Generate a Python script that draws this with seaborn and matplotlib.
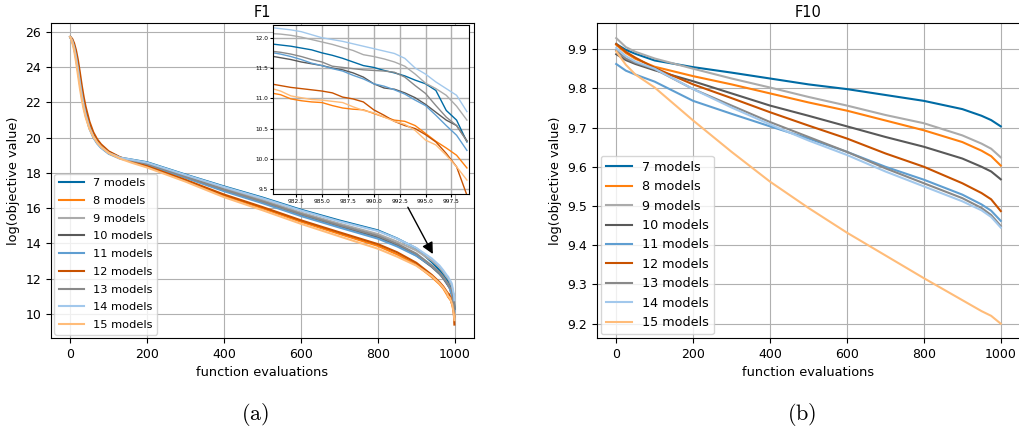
import matplotlib
matplotlib.use("Agg")
import matplotlib.pyplot as plt
import seaborn as sns
import pandas as pd

# ---------------- data ----------------
labels = ["7 models", "8 models", "9 models", "10 models", "11 models",
          "12 models", "13 models", "14 models", "15 models"]
colors = ["#006BA4", "#FF800E", "#ABABAB", "#595959", "#5F9ED1",
          "#C85200", "#898989", "#A2C8EC", "#FFBC79"]

# F1 evaluation positions
f1_x = [0, 5, 10, 15, 20, 25, 30, 35, 40, 50, 60, 70, 80, 100, 130, 160,
        200, 250, 300, 400, 500, 600, 700, 800, 850, 900, 940, 960, 970,
        980, 981, 982, 983, 984, 985, 986, 987, 988, 989,
        990, 991, 992, 993, 994, 995, 996, 997, 998, 999]

f1_7 = [25.7, 25.5, 25.15, 24.6, 23.9, 23.15, 22.45, 21.85, 21.33, 20.58, 20.07, 19.72, 19.47, 19.13, 18.86, 18.75,
        18.6, 18.25, 17.9, 17.23, 16.6, 15.91, 15.3, 14.74, 14.28, 13.72, 12.95, 12.49, 12.24,
        11.90, 11.88, 11.86, 11.83, 11.80, 11.75, 11.71, 11.66, 11.60, 11.54,
        11.51, 11.46, 11.42, 11.37, 11.30, 11.24, 11.13, 10.80, 10.64, 10.28]
f1_8 = [25.7, 25.55, 25.2, 24.7, 24.0, 23.25, 22.55, 21.95, 21.45, 20.68, 20.17, 19.8, 19.55, 19.18, 18.85, 18.62,
        18.35, 17.95, 17.56, 16.71, 15.99, 15.23, 14.54, 13.86, 13.38, 12.78, 12.1, 11.7, 11.45,
        11.09, 11.06, 10.99, 10.96, 10.94, 10.93, 10.88, 10.84, 10.82, 10.81,
        10.75, 10.69, 10.64, 10.62, 10.55, 10.42, 10.29, 10.18, 10.06, 9.85]
f1_9 = [25.7, 25.5, 25.15, 24.6, 23.9, 23.15, 22.45, 21.85, 21.35, 20.6, 20.1, 19.75, 19.5, 19.15, 18.86, 18.72,
        18.54, 18.18, 17.82, 17.11, 16.46, 15.75, 15.12, 14.53, 14.1, 13.6, 13.03, 12.65, 12.38,
        12.07, 12.06, 12.04, 12.01, 11.97, 11.93, 11.89, 11.84, 11.79, 11.72,
        11.69, 11.65, 11.60, 11.53, 11.40, 11.25, 11.16, 11.05, 10.87, 10.64]
f1_10 = [25.7, 25.52, 25.18, 24.65, 23.95, 23.2, 22.5, 21.9, 21.38, 20.62, 20.12, 19.76, 19.5, 19.15, 18.84, 18.68,
         18.49, 18.12, 17.75, 17.0, 16.33, 15.61, 14.96, 14.34, 13.9, 13.32, 12.68, 12.28, 12.03,
         11.70, 11.67, 11.64, 11.60, 11.57, 11.54, 11.50, 11.47, 11.42, 11.35,
         11.24, 11.17, 11.15, 11.09, 11.01, 10.90, 10.77, 10.64, 10.55, 10.30]
f1_11 = [25.7, 25.47, 25.08, 24.5, 23.8, 23.05, 22.35, 21.75, 21.25, 20.5, 20.0, 19.66, 19.42, 19.08, 18.8, 18.66,
         18.47, 18.09, 17.72, 16.96, 16.28, 15.55, 14.9, 14.27, 13.83, 13.3, 12.73, 12.33, 12.08,
         11.76, 11.73, 11.69, 11.64, 11.58, 11.54, 11.49, 11.45, 11.38, 11.32,
         11.24, 11.20, 11.14, 11.07, 10.97, 10.88, 10.72, 10.55, 10.39, 10.14]
f1_12 = [25.7, 25.6, 25.35, 24.95, 24.4, 23.7, 22.95, 22.3, 21.75, 20.9, 20.3, 19.9, 19.62, 19.22, 18.88, 18.65,
         18.38, 17.99, 17.6, 16.77, 16.06, 15.31, 14.63, 13.96, 13.5, 12.9, 12.22, 11.81, 11.56,
         11.24, 11.21, 11.18, 11.16, 11.14, 11.12, 11.09, 11.02, 10.99, 10.94,
         10.81, 10.72, 10.62, 10.55, 10.50, 10.40, 10.28, 10.09, 9.87, 9.40]
f1_13 = [25.7, 25.5, 25.12, 24.58, 23.88, 23.12, 22.42, 21.82, 21.33, 20.58, 20.08, 19.73, 19.48, 19.13, 18.84, 18.7,
         18.51, 18.15, 17.78, 17.05, 16.38, 15.67, 15.03, 14.43, 13.98, 13.42, 12.75, 12.35, 12.1,
         11.78, 11.76, 11.73, 11.69, 11.64, 11.60, 11.53, 11.51, 11.49, 11.47,
         11.46, 11.45, 11.43, 11.35, 11.21, 11.08, 10.88, 10.69, 10.55, 10.29]
f1_14 = [25.7, 25.48, 25.1, 24.55, 23.85, 23.1, 22.4, 21.8, 21.3, 20.55, 20.05, 19.7, 19.45, 19.12, 18.86, 18.74,
         18.58, 18.23, 17.88, 17.2, 16.56, 15.87, 15.25, 14.7, 14.27, 13.74, 13.15, 12.75, 12.48,
         12.17, 12.15, 12.13, 12.10, 12.05, 12.00, 11.97, 11.94, 11.90, 11.86,
         11.82, 11.78, 11.74, 11.66, 11.50, 11.40, 11.27, 11.16, 11.05, 10.78]
f1_15 = [25.7, 25.4, 24.95, 24.3, 23.55, 22.8, 22.15, 21.6, 21.15, 20.5, 20.05, 19.72, 19.48, 19.12, 18.8, 18.57,
         18.3, 17.9, 17.5, 16.62, 15.88, 15.11, 14.4, 13.7, 13.25, 12.74, 12.15, 11.75, 11.5,
         11.17, 11.12, 11.04, 11.01, 10.98, 10.97, 10.95, 10.93, 10.86, 10.80,
         10.76, 10.69, 10.62, 10.57, 10.47, 10.31, 10.23, 10.06, 9.87, 9.65]

# F10 evaluation positions
f10_x = [0, 25, 50, 100, 200, 300, 400, 500, 600, 700, 800, 900, 950, 975, 1000]
f10_7 = [9.913, 9.898, 9.888, 9.871, 9.854, 9.840, 9.825, 9.810, 9.798, 9.783, 9.768, 9.747, 9.730, 9.719, 9.703]
f10_8 = [9.911, 9.890, 9.875, 9.855, 9.831, 9.810, 9.787, 9.764, 9.743, 9.718, 9.693, 9.663, 9.641, 9.627, 9.603]
f10_9 = [9.928, 9.905, 9.893, 9.876, 9.850, 9.825, 9.802, 9.778, 9.756, 9.732, 9.711, 9.680, 9.659, 9.646, 9.624]
f10_10 = [9.887, 9.872, 9.862, 9.846, 9.818, 9.787, 9.756, 9.730, 9.703, 9.676, 9.651, 9.621, 9.600, 9.588, 9.568]
f10_11 = [9.862, 9.845, 9.835, 9.817, 9.768, 9.735, 9.703, 9.672, 9.638, 9.600, 9.567, 9.529, 9.504, 9.488, 9.462]
f10_12 = [9.913, 9.893, 9.878, 9.852, 9.810, 9.775, 9.739, 9.705, 9.672, 9.634, 9.600, 9.558, 9.533, 9.517, 9.487]
f10_13 = [9.896, 9.876, 9.865, 9.849, 9.798, 9.756, 9.714, 9.676, 9.638, 9.596, 9.558, 9.520, 9.495, 9.477, 9.449]
f10_14 = [9.903, 9.882, 9.868, 9.850, 9.798, 9.751, 9.708, 9.667, 9.630, 9.588, 9.550, 9.512, 9.489, 9.472, 9.445]
f10_15 = [9.894, 9.860, 9.835, 9.802, 9.718, 9.638, 9.562, 9.495, 9.432, 9.374, 9.316, 9.260, 9.232, 9.220, 9.200]

inset_xticks = [982.5, 985.0, 987.5, 990.0, 992.5, 995.0, 997.5]
inset_yticks = [9.5, 10.0, 10.5, 11.0, 11.5, 12.0]

f1_series = [f1_7, f1_8, f1_9, f1_10, f1_11, f1_12, f1_13, f1_14, f1_15]
f10_series = [f10_7, f10_8, f10_9, f10_10, f10_11, f10_12, f10_13, f10_14, f10_15]

# ---------------- style ----------------
plt.rcParams.update({
    "font.family": ["DejaVu Sans"],
    "font.size": 9.3,
    "axes.grid": True,
    "grid.color": "#b0b0b0",
    "grid.linewidth": 0.8,
    "axes.edgecolor": "black",
    "axes.linewidth": 0.8,
    "xtick.labelsize": 9,
    "ytick.labelsize": 9,
    "mathtext.fontset": "cm",
})

fig = plt.figure(figsize=(10.19, 4.32), dpi=100)
W, H = 1019, 432
ax1 = fig.add_axes([51 / W, (H - 338) / H, 423 / W, 315 / H])
ax2 = fig.add_axes([597 / W, (H - 338) / H, 423 / W, 315 / H])


def draw(ax, xs, series, lw=1.5, with_label=True):
    for ys, lab, col in zip(series, labels, colors):
        df = pd.DataFrame({"x": xs, "y": ys})
        sns.lineplot(data=df, x="x", y="y", ax=ax, color=col, linewidth=lw,
                     label=lab if with_label else None, legend=False,
                     estimator=None, sort=True)


# ---- F1 ----
draw(ax1, f1_x, f1_series)
ax1.set_title("F1", fontsize=10.5, pad=4)
ax1.set_xlabel("function evaluations")
ax1.set_ylabel("log(objective value)")
ax1.set_xticks([0, 200, 400, 600, 800, 1000])
ax1.set_yticks([10, 12, 14, 16, 18, 20, 22, 24, 26])
ax1.set_xlim(-50, 1050)
ax1.set_ylim(8.64, 26.49)
ax1.legend(loc="lower left", fontsize=8.2, borderaxespad=0.3,
           labelspacing=0.68, handlelength=2.2)

axin = ax1.inset_axes([0.5255, 0.4571, 0.4627, 0.5365])
draw(axin, f1_x, f1_series, lw=1.0, with_label=False)
axin.set_xlim(980.3, 999.2)
axin.set_ylim(9.42, 12.21)
axin.set_xticks(inset_xticks)
axin.set_yticks(inset_yticks)
axin.tick_params(labelsize=4.2, length=2, pad=1.5)
axin.set_xlabel("")
axin.set_ylabel("")
axin.grid(True, color="#b0b0b0", linewidth=1.0)
axin.set_facecolor("white")

ax1.annotate("", xy=(943, 13.4), xytext=(878, 16.05),
             arrowprops=dict(arrowstyle="-|>", color="black", lw=1.0,
                             mutation_scale=17, shrinkA=0, shrinkB=0))

# ---- F10 ----
draw(ax2, f10_x, f10_series)
ax2.set_title("F10", fontsize=10.5, pad=4)
ax2.set_xlabel("function evaluations")
ax2.set_ylabel("log(objective value)")
ax2.set_xticks([0, 200, 400, 600, 800, 1000])
ax2.set_yticks([9.2, 9.3, 9.4, 9.5, 9.6, 9.7, 9.8, 9.9])
ax2.set_xlim(-50, 1050)
ax2.set_ylim(9.1635, 9.9665)
ax2.legend(loc="lower left", fontsize=9.2, borderaxespad=0.3)

# captions
fig.text(255 / W, 1 - 415 / H, r"$\mathrm{(a)}$", ha="center", va="center", fontsize=16)
fig.text(802 / W, 1 - 415 / H, r"$\mathrm{(b)}$", ha="center", va="center", fontsize=16)

fig.savefig("out.png", dpi=100)
